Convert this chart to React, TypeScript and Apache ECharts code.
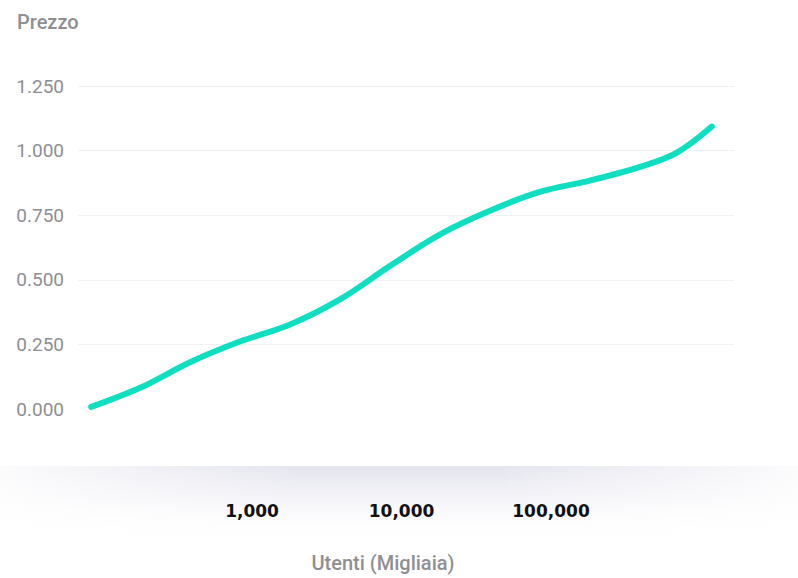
import React, { useEffect, useRef } from "react";
import * as echarts from "echarts";

// Users (thousands) and price
const users = [84, 180, 385, 830, 1800, 3900, 8400, 18000, 39000, 84000, 182000, 394000, 686000, 1190000];
const prices = [0.008, 0.083, 0.181, 0.261, 0.327, 0.425, 0.554, 0.675, 0.767, 0.84, 0.884, 0.937, 0.99, 1.093];
const xTickValues = [1000, 10000, 100000];
const yTicks = [0, 0.25, 0.5, 0.75, 1.0, 1.25];

export default function App() {
  const ref = useRef<HTMLDivElement>(null);
  useEffect(() => {
    document.body.style.margin = "0";
    const chart = echarts.init(ref.current!, null, { renderer: "svg" });
    const data = users.map((u, i) => [Math.log10(u), prices[i]]);
    chart.setOption({
      animation: false,
      backgroundColor: "#ffffff",
      title: {
        text: "Prezzo",
        left: 12,
        top: 7,
        textStyle: { fontFamily: "Roboto", fontWeight: 500, fontSize: 20, color: "#8e8e93" },
      },
      graphic: [
        {
          type: "rect",
          z: -10,
          shape: { x: 0, y: 466, width: 798, height: 75 },
          style: {
            fill: new echarts.graphic.LinearGradient(0, 0, 0, 1, [
              { offset: 0, color: "rgba(228,228,238,1)" },
              { offset: 0.4, color: "rgba(238,238,245,0.75)" },
              { offset: 1, color: "rgba(255,255,255,0)" },
            ]),
          },
        },
        {
          type: "rect",
          z: -9,
          shape: { x: 0, y: 466, width: 300, height: 75 },
          style: {
            fill: new echarts.graphic.LinearGradient(0, 0, 1, 0, [
              { offset: 0, color: "rgba(255,255,255,0.85)" },
              { offset: 1, color: "rgba(255,255,255,0)" },
            ]),
          },
        },
        {
          type: "rect",
          z: -9,
          shape: { x: 498, y: 466, width: 300, height: 75 },
          style: {
            fill: new echarts.graphic.LinearGradient(0, 0, 1, 0, [
              { offset: 0, color: "rgba(255,255,255,0)" },
              { offset: 1, color: "rgba(255,255,255,0.85)" },
            ]),
          },
        },
      ],
      grid: { left: 78, right: 64, top: 86, bottom: 166, containLabel: false },
      xAxis: {
        type: "value",
        min: 1.836,
        max: 6.224,
        name: "Utenti (Migliaia)",
        nameLocation: "middle",
        nameGap: 144,
        nameTextStyle: {
          fontFamily: "Roboto",
          fontWeight: 500,
          fontSize: 20,
          color: "#8e8e93",
          padding: [0, 46, 0, 0],
        },
        axisLine: { show: false },
        axisTick: { show: false },
        splitLine: { show: false },
        axisLabel: {
          customValues: xTickValues.map((v) => Math.log10(v)),
          margin: 93,
          fontFamily: "DejaVu Sans",
          fontWeight: "bold",
          fontSize: 17,
          color: "#111111",
          formatter: (v: number) => Math.round(Math.pow(10, v)).toLocaleString("en-US"),
        },
      },
      yAxis: {
        type: "value",
        min: yTicks[0],
        max: yTicks[yTicks.length - 1],
        interval: 0.25,
        axisLine: { show: false },
        axisTick: { show: false },
        splitLine: { show: true, showMinLine: false, lineStyle: { color: "#f0f0f5", width: 1 } },
        axisLabel: {
          margin: 14,
          fontFamily: "Roboto",
          fontSize: 19,
          color: "#8e8e93",
          formatter: (v: number) => v.toFixed(3),
        },
      },
      series: [
        {
          type: "line",
          data,
          smooth: 0.35,
          showSymbol: false,
          symbol: "none",
          lineStyle: { color: "#0fdfc0", width: 6, cap: "round", join: "round" },
        },
      ],
    });
    return () => chart.dispose();
  }, []);
  return <div ref={ref} style={{ width: 798, height: 578 }} />;
}
